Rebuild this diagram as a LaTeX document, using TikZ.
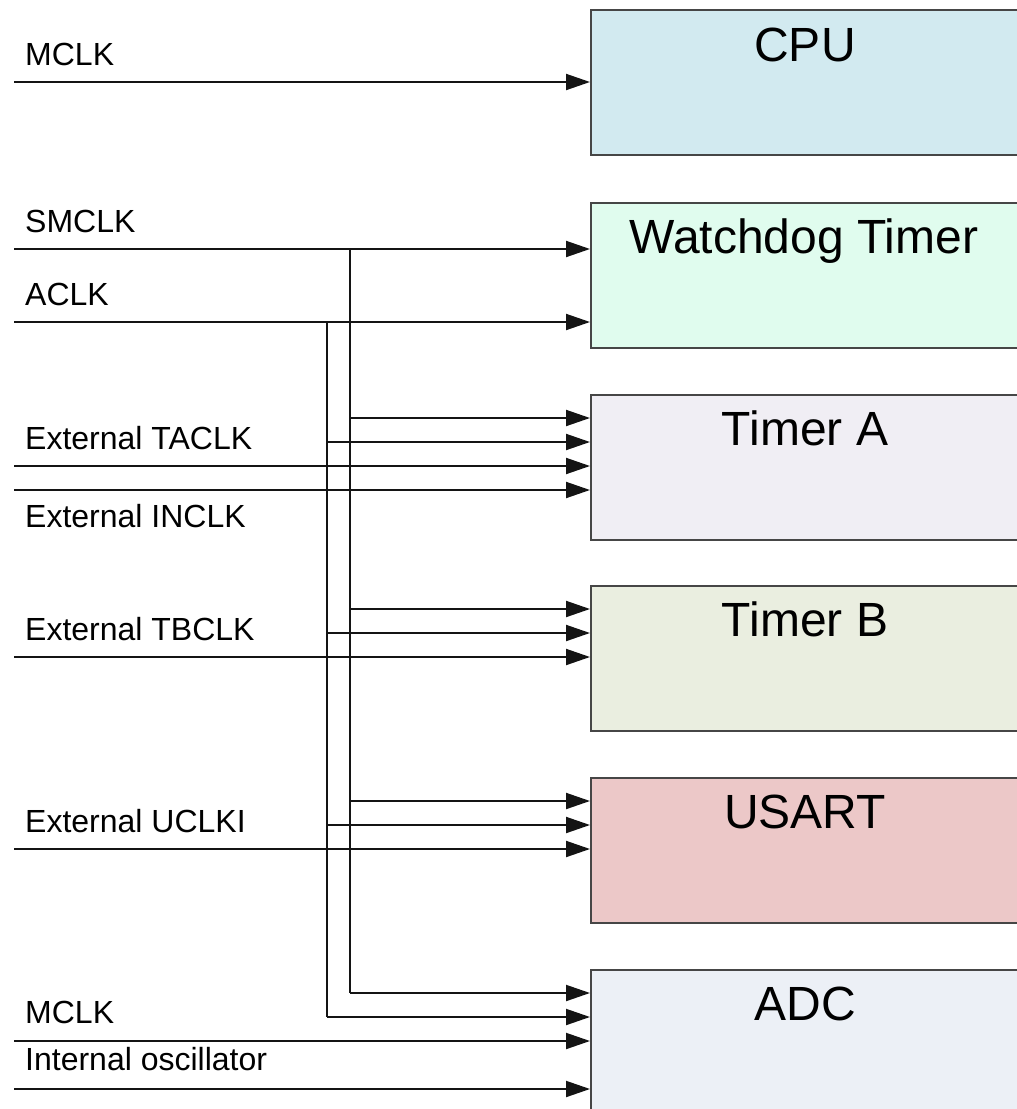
\documentclass[tikz,border=0pt]{standalone}
\usepackage{fontspec}
\setmainfont{Liberation Sans}
\usetikzlibrary{arrows.meta,calc}
\definecolor{cpucol}{RGB}{210,234,240}
\definecolor{wdcol}{RGB}{224,252,238}
\definecolor{tacol}{RGB}{240,238,244}
\definecolor{tbcol}{RGB}{234,238,224}
\definecolor{uscol}{RGB}{236,200,200}
\definecolor{adcol}{RGB}{236,240,246}
\definecolor{edgecol}{RGB}{70,70,70}
\definecolor{wirecol}{RGB}{20,20,20}
\begin{document}
\begin{tikzpicture}[x=1pt,y=-1pt,
  blockbox/.style={draw=edgecol,line width=1.6pt,minimum width=460pt,minimum height=145pt,inner sep=0pt,anchor=north west},
  blocktitle/.style={font=\fontsize{48}{52}\selectfont,anchor=base,inner sep=0pt},
  siglabel/.style={font=\fontsize{32}{36}\selectfont,anchor=base west,inner sep=0pt},
  wire/.style={draw=wirecol,line width=2pt},
  sig/.style={wire,-{Triangle[length=24pt,width=16pt]}}
]
\useasboundingbox (0,0) rectangle (1017,1109);
% blocks
\node[blockbox,fill=cpucol] (cpu) at (590,9) {};
\node[blockbox,fill=wdcol] (wd) at (590,202) {};
\node[blockbox,fill=tacol] (ta) at (590,394) {};
\node[blockbox,fill=tbcol] (tb) at (590,585) {};
\node[blockbox,fill=uscol] (us) at (590,777) {};
\node[blockbox,fill=adcol] (adc) at (590,969) {};
\node[blocktitle] (cput) at ($(cpu.north west)+(215,52)$) {CPU};
\node[blocktitle] (wdt) at ($(wd.north west)+(214,51)$) {Watchdog Timer};
\node[blocktitle] (tat) at ($(ta.north west)+(215,51)$) {Timer A};
\node[blocktitle] (tbt) at ($(tb.north west)+(215,51)$) {Timer B};
\node[blocktitle] (ust) at ($(us.north west)+(215,51)$) {USART};
\node[blocktitle] (adct) at ($(adc.north west)+(215,51)$) {ADC};
% labels
\node[siglabel] (l1) at (25,65) {MCLK};
\node[siglabel] (l2) at (25,232) {SMCLK};
\node[siglabel] (l3) at (25,305) {ACLK};
\node[siglabel] (l4) at (25,449) {External TACLK};
\node[siglabel] (l5) at (25,527) {External INCLK};
\node[siglabel] (l6) at (25,640) {External TBCLK};
\node[siglabel] (l7) at (25,832) {External UCLKI};
\node[siglabel] (l8) at (25,1023) {MCLK};
\node[siglabel] (l9) at (25,1070) {Internal oscillator};
% input coordinates
\coordinate (mclk) at (14,82);
\coordinate (smclk) at (14,249);
\coordinate (aclk) at (14,322);
\coordinate (taclk) at (14,466);
\coordinate (inclk) at (14,490);
\coordinate (tbclk) at (14,657);
\coordinate (uclki) at (14,849);
\coordinate (mclkb) at (14,1041);
\coordinate (iosc) at (14,1089);
% bus coordinates
\coordinate (sbt) at (350,249);
\coordinate (abt) at (327,322);
\coordinate (s1) at (350,418); \coordinate (a1) at (327,442);
\coordinate (s2) at (350,609); \coordinate (a2) at (327,633);
\coordinate (s3) at (350,801); \coordinate (a3) at (327,825);
\coordinate (s4) at (350,993); \coordinate (a4) at (327,1017);
% buses
\draw[wire] (sbt) -- (s4);
\draw[wire] (abt) -- (a4);
% connectors
\draw[sig] (mclk) -- (mclk -| cpu.west);
\draw[sig] (smclk) -- (smclk -| wd.west);
\draw[sig] (aclk) -- (aclk -| wd.west);
\draw[sig] (s1) -- (s1 -| ta.west);
\draw[sig] (a1) -- (a1 -| ta.west);
\draw[sig] (taclk) -- (taclk -| ta.west);
\draw[sig] (inclk) -- (inclk -| ta.west);
\draw[sig] (s2) -- (s2 -| tb.west);
\draw[sig] (a2) -- (a2 -| tb.west);
\draw[sig] (tbclk) -- (tbclk -| tb.west);
\draw[sig] (s3) -- (s3 -| us.west);
\draw[sig] (a3) -- (a3 -| us.west);
\draw[sig] (uclki) -- (uclki -| us.west);
\draw[sig] (s4) -- (s4 -| adc.west);
\draw[sig] (a4) -- (a4 -| adc.west);
\draw[sig] (mclkb) -- (mclkb -| adc.west);
\draw[sig] (iosc) -- (iosc -| adc.west);
\end{tikzpicture}
\end{document}
